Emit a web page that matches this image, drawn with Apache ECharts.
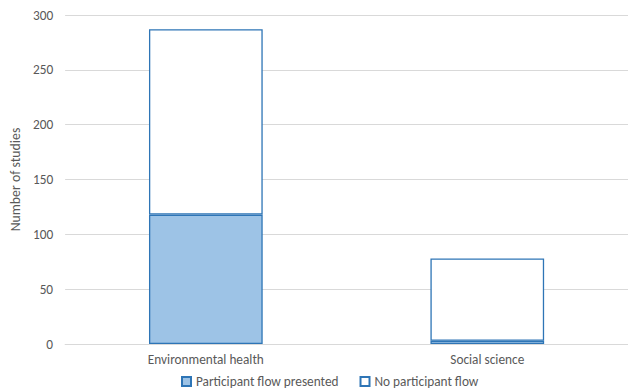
<!DOCTYPE html>
<html lang="en">
<head>
    <meta charset="utf-8" />
    <title>ECharts</title>
    <script src="https://cdn.jsdelivr.net/npm/echarts@6/dist/echarts.min.js"></script>
</head>
<body style="margin:0">
<div id="main" style="width: 628px;height:391px;"></div>
<script type="text/javascript">
    // 数据
    var categories = ['Environmental health', 'Social science'];
    var presented = [118, 3];
    var noFlow = [169, 75];

    var myChart = echarts.init(document.getElementById('main'), null, {renderer: 'svg'});
    var font = 'Calibri, Carlito, "Open Sans", sans-serif';

    option = {
      textStyle: { fontFamily: font },
      animation: false,
      grid: { left: 62, right: -6, top: 15, bottom: 47 },
      legend: {
        bottom: -2,
        left: 176,
        itemWidth: 9,
        itemHeight: 9,
        itemGap: 21,
        icon: 'rect',
        textStyle: { color: '#595959', fontSize: 13.3, fontFamily: font }
      },
      xAxis: {
        type: 'category',
        data: categories,
        axisLine: { lineStyle: { color: '#d9d9d9', width: 1 } },
        axisTick: { show: false },
        axisLabel: { color: '#595959', fontSize: 13.3, margin: 9 }
      },
      yAxis: {
        type: 'value',
        min: 0,
        max: 300,
        interval: 50,
        name: 'Number of studies',
        nameLocation: 'middle',
        nameGap: 43,
        nameTextStyle: { color: '#595959', fontSize: 13.8 },
        splitLine: { lineStyle: { color: '#d9d9d9' } },
        axisLabel: { color: '#595959', fontSize: 13.3, margin: 12 }
      },
      series: [
        {
          name: 'Participant flow presented',
          type: 'bar',
          stack: 'total',
          barWidth: '40.4%',
          data: presented,
          itemStyle: { color: '#9dc3e6', borderColor: '#2e75b6', borderWidth: 1.3 }
        },
        {
          name: 'No participant flow',
          type: 'bar',
          stack: 'total',
          data: noFlow,
          itemStyle: { color: '#ffffff', borderColor: '#2e75b6', borderWidth: 1.3 }
        }
      ]
    };
    myChart.setOption(option);
</script>
</body>
</html>
